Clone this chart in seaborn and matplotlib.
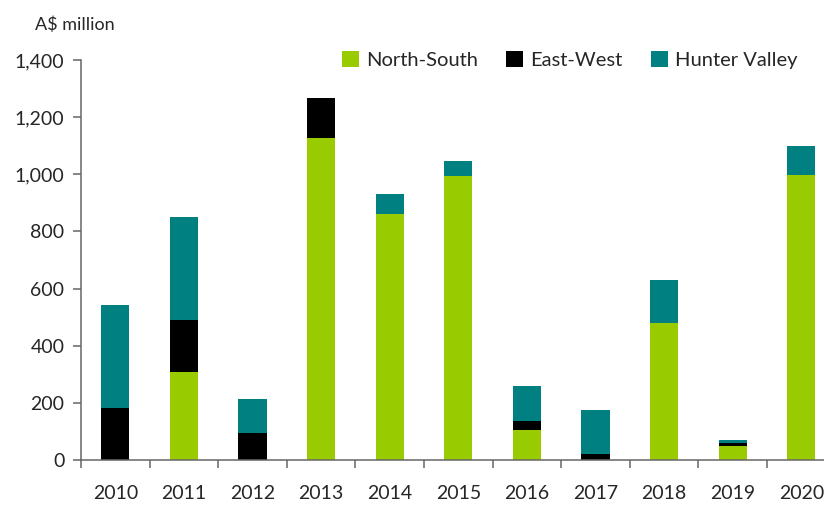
import numpy as np
import pandas as pd
import matplotlib
matplotlib.use("Agg")
import matplotlib.pyplot as plt
import seaborn as sns
from matplotlib.patches import Patch
from matplotlib.ticker import FuncFormatter, FixedLocator

years = ["2010", "2011", "2012", "2013", "2014", "2015", "2016", "2017", "2018", "2019", "2020"]
north_south = [0, 307, 0, 1127, 862, 994, 105, 0, 478, 49, 998]
east_west = [181, 182, 94, 140, 0, 0, 31, 21, 0, 10, 0]
hunter_valley = [360, 362, 119, 0, 69, 52, 122, 153, 153, 11, 101]

series_names = ["North-South", "East-West", "Hunter Valley"]
colors = ["#99cc00", "#000000", "#008080"]

df = pd.DataFrame({
    "year": years,
    "North-South": north_south,
    "East-West": east_west,
    "Hunter Valley": hunter_valley,
})
# cumulative tops, drawn back to front
df["top_ns"] = df["North-South"]
df["top_ew"] = df["top_ns"] + df["East-West"]
df["top_hv"] = df["top_ew"] + df["Hunter Valley"]

sns.set_theme(style="white")
plt.rcParams["font.family"] = ["Lato", "DejaVu Sans"]

fig = plt.figure(figsize=(8.24, 5.05), dpi=100)
ax = fig.add_axes([81 / 824, 45 / 505, 1 - 81 / 824, 400 / 505])

for col, c in [("top_hv", colors[2]), ("top_ew", colors[1]), ("top_ns", colors[0])]:
    sns.barplot(data=df, x="year", y=col, color=c, width=0.41,
                saturation=1, ax=ax, linewidth=0)

ax.set_ylim(0, 1400)
ax.set_xlim(-0.5, 10.33)
ax.set_xlabel("")
ax.set_ylabel("")
ax.yaxis.set_major_formatter(FuncFormatter(lambda v, p: f"{int(v):,}"))
ax.set_yticks(np.arange(0, 1401, 200))

for s in ["top", "right"]:
    ax.spines[s].set_visible(False)
ax.spines["left"].set_color("#666666")
ax.spines["bottom"].set_color("#666666")
ax.spines["left"].set_linewidth(1.1)
ax.spines["bottom"].set_linewidth(1.1)

ax.tick_params(axis="y", which="major", direction="out", length=6, width=1.1,
               color="#666666", labelsize=14, pad=6, left=True)
ax.tick_params(axis="x", which="major", length=0, labelsize=14, pad=18)
ax.xaxis.set_minor_locator(FixedLocator(np.arange(-0.5, 11, 1)))
ax.tick_params(axis="x", which="minor", direction="out", length=6, width=1.1,
               color="#666666", bottom=True)

fig.text(35 / 824, 1 - 25 / 505, "A$ million", fontsize=13, va="center", ha="left")

handles = [Patch(facecolor=c, edgecolor="none") for c in colors]
ax.legend(handles, series_names, ncol=3, loc="center right", bbox_to_anchor=(0.964, 1.0),
          frameon=False, fontsize=14.5, handlelength=0.85, handleheight=0.85,
          handletextpad=0.35, columnspacing=1.4, borderaxespad=0, borderpad=0)

fig.savefig("out.png", dpi=100)
